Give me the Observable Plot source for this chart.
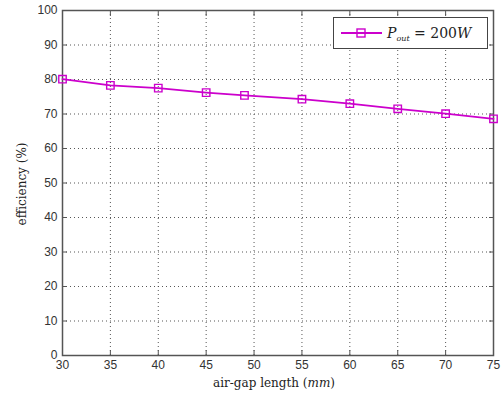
<!DOCTYPE html>
<html>
<head>
<meta charset="utf-8">
<script src="https://cdn.jsdelivr.net/npm/d3@7"></script>
<script src="https://cdn.jsdelivr.net/npm/@observablehq/plot@0.6"></script>
<style>
  html, body { margin: 0; padding: 0; background: #fff; }
  .serif { font-family: "DejaVu Serif", "Liberation Serif", serif !important; }
</style>
</head>
<body>
<div id="chart"></div>
<script>
const airGap = [30, 35, 40, 45, 49, 55, 60, 65, 70, 75];
const efficiency = [80.1, 78.3, 77.5, 76.2, 75.4, 74.3, 73.0, 71.5, 70.1, 68.6];
const xTicks = [30, 35, 40, 45, 50, 55, 60, 65, 70, 75];
const yTicks = [0, 10, 20, 30, 40, 50, 60, 70, 80, 90, 100];
const seriesName = "200W";

const data = airGap.map((x, i) => ({x, y: efficiency[i]}));
const color = "#cc00cc";

const W = 502, H = 400;
const mL = 62, mR = 9, mT = 10, mB = 45;

const plot = Plot.plot({
  width: W, height: H,
  marginLeft: mL, marginRight: mR, marginTop: mT, marginBottom: mB,
  style: {fontFamily: "Liberation Sans, Arial, sans-serif", fontSize: "12px", color: "#333", background: "#fff"},
  x: {domain: [30, 75]},
  y: {domain: [0, 100]},
  marks: [
    Plot.gridX(xTicks, {stroke: "#444", strokeOpacity: 0.9, strokeDasharray: "1,3", strokeWidth: 1}),
    Plot.gridY(yTicks, {stroke: "#444", strokeOpacity: 0.9, strokeDasharray: "1,3", strokeWidth: 1}),
    Plot.axisX(xTicks, {anchor: "bottom", tickSize: -5, tickPadding: 10, label: null, stroke: "#555", fontSize: 12}),
    Plot.axisX(xTicks, {anchor: "top", tickSize: -5, tickFormat: () => "", label: null, stroke: "#555"}),
    Plot.axisY(yTicks, {anchor: "left", tickSize: -5, tickPadding: 10, label: null, stroke: "#555", fontSize: 12}),
    Plot.axisY(yTicks, {anchor: "right", tickSize: -5, tickFormat: () => "", label: null, stroke: "#555"}),
    Plot.frame({stroke: "#555", strokeWidth: 1.5}),
    Plot.line(data, {x: "x", y: "y", stroke: color, strokeWidth: 1.8}),
    Plot.dot(data, {x: "x", y: "y", symbol: "square", r: 4.2, stroke: color, strokeWidth: 1.4, fill: "none"})
  ]
});
document.getElementById("chart").appendChild(plot);

const svg = d3.select(plot);

// x label
const xl = svg.append("text")
  .attr("class", "serif")
  .attr("x", 274)
  .attr("y", 387)
  .style("text-anchor", "middle")
  .style("font-size", "12px")
  .attr("fill", "#222");
xl.append("tspan").text("air-gap length (");
xl.append("tspan").style("font-style", "italic").text("mm");
xl.append("tspan").text(")");

// y label
svg.append("text")
  .attr("class", "serif")
  .attr("transform", `translate(26, 184) rotate(-90)`)
  .style("text-anchor", "middle")
  .style("font-size", "12px")
  .attr("fill", "#222")
  .text("efficiency (%)");

// legend
const lg = svg.append("g");
lg.append("rect").attr("x", 333.5).attr("y", 17.5).attr("width", 154).attr("height", 31)
  .attr("fill", "#fff").attr("stroke", "#444").attr("stroke-width", 1);
lg.append("line").attr("x1", 341).attr("x2", 382).attr("y1", 33).attr("y2", 33)
  .attr("stroke", color).attr("stroke-width", 1.8);
lg.append("rect").attr("x", 357).attr("y", 29).attr("width", 8).attr("height", 8)
  .attr("fill", "none").attr("stroke", color).attr("stroke-width", 1.4);
const lt = lg.append("text").attr("class", "serif").attr("x", 387).attr("y", 38)
  .style("text-anchor", "start").style("font-size", "14px").attr("fill", "#222");
lt.append("tspan").style("font-style", "italic").text("P");
lt.append("tspan").style("font-style", "italic").style("font-size", "8px").attr("dy", 3).text("out");
lt.append("tspan").attr("dy", -3).text(" = 200");
lt.append("tspan").style("font-style", "italic").text("W");
</script>
</body>
</html>
